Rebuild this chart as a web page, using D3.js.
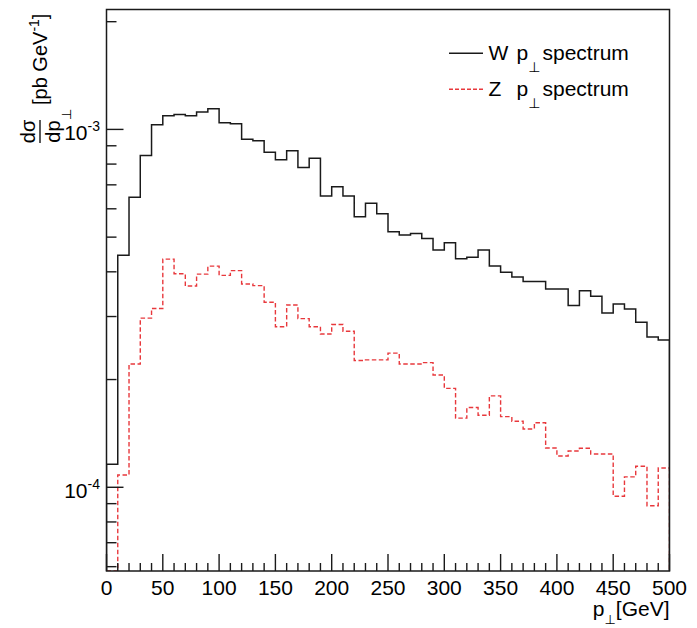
<!DOCTYPE html>
<html>
<head>
<meta charset="utf-8">
<script src="https://cdn.jsdelivr.net/npm/d3@7/dist/d3.min.js"></script>
<style>
  html, body { margin: 0; padding: 0; background: #fff; }
  svg { display: block; }
  text, tspan { font-family: "Liberation Sans", Arial, Helvetica, sans-serif; fill: #000; }
  tspan.perp, text.perp { font-family: "DejaVu Sans", sans-serif; fill: #000; }
</style>
</head>
<body>
<svg id="chart" width="697" height="628"></svg>
<script>
// p_T spectra, 10 GeV bins from 0 to 500 GeV, dσ/dp_T in pb/GeV
const binEdges = d3.range(0, 510, 10);

const wSpectrum = [
  1.16e-4, 4.45e-4, 6.46e-4, 8.46e-4, 1.030e-3, 1.091e-3, 1.101e-3, 1.091e-3, 1.118e-3, 1.142e-3,
  1.043e-3, 1.037e-3, 9.39e-4, 9.29e-4, 8.64e-4, 8.22e-4, 8.71e-4, 7.83e-4, 8.30e-4, 6.51e-4,
  6.91e-4, 6.52e-4, 5.70e-4, 6.22e-4, 5.81e-4, 5.18e-4, 5.07e-4, 5.12e-4, 4.96e-4, 4.60e-4,
  4.82e-4, 4.35e-4, 4.39e-4, 4.60e-4, 4.15e-4, 3.99e-4, 3.87e-4, 3.76e-4, 3.76e-4, 3.58e-4,
  3.58e-4, 3.22e-4, 3.54e-4, 3.42e-4, 3.07e-4, 3.25e-4, 3.15e-4, 2.89e-4, 2.63e-4, 2.58e-4
];

const zSpectrum = [
  0, 1.082e-4, 2.21e-4, 2.97e-4, 3.16e-4, 4.34e-4, 3.95e-4, 3.65e-4, 3.94e-4, 4.15e-4,
  3.91e-4, 4.03e-4, 3.70e-4, 3.66e-4, 3.29e-4, 2.81e-4, 3.23e-4, 2.96e-4, 2.81e-4, 2.68e-4,
  2.85e-4, 2.73e-4, 2.26e-4, 2.27e-4, 2.27e-4, 2.37e-4, 2.21e-4, 2.21e-4, 2.23e-4, 2.06e-4,
  1.89e-4, 1.56e-4, 1.67e-4, 1.59e-4, 1.80e-4, 1.575e-4, 1.53e-4, 1.455e-4, 1.515e-4, 1.288e-4,
  1.223e-4, 1.263e-4, 1.285e-4, 1.239e-4, 1.239e-4, 9.44e-5, 1.069e-4, 1.145e-4, 8.88e-5, 1.132e-4
];

const xMajorTicks = [0, 50, 100, 150, 200, 250, 300, 350, 400, 450, 500];
const xMinorTicks = d3.range(0, 501, 10).filter(v => v % 50 !== 0);
const yMajorTicks = [1e-4, 1e-3];
const yMajorExp = ["-4", "-3"];
const yMinorTicks = [6e-5, 7e-5, 8e-5, 9e-5, 2e-4, 3e-4, 4e-4, 5e-4, 6e-4, 7e-4, 8e-4, 9e-4, 2e-3];
const yDomain = [5.835e-5, 2.163e-3];

const legendLabels = ["W", "Z"];

// frame geometry
const L = 106.5, R = 669.5, T = 9.5, B = 571;

const svg = d3.select("#chart");

const x = d3.scaleLinear().domain([0, 500]).range([L, R]);
const y = d3.scaleLog().domain(yDomain).range([B, T]).clamp(true);

svg.append("defs").append("clipPath").attr("id", "plotClip")
  .append("rect").attr("x", L).attr("y", T).attr("width", R - L).attr("height", B - T);

// step outline of a histogram, dropping to the lower edge at both ends
function histPath(values) {
  const line = d3.line()
    .x(d => x(d[0]))
    .y(d => y(d[1]))
    .curve(d3.curveStepAfter);
  const inner = values.map((v, i) => [binEdges[i], v]);
  inner.push([binEdges[values.length], values[values.length - 1]]);
  let d = "M" + x(binEdges[0]) + "," + y(0);
  d += "L" + line(inner).slice(1);
  d += "L" + x(binEdges[values.length]) + "," + y(0);
  return d;
}

const plot = svg.append("g").attr("clip-path", "url(#plotClip)");

plot.append("path")
  .attr("d", histPath(zSpectrum))
  .attr("fill", "none")
  .attr("stroke", "#e8383c")
  .attr("stroke-width", 1.4)
  .attr("stroke-dasharray", "4.5,2.5");

plot.append("path")
  .attr("d", histPath(wSpectrum))
  .attr("fill", "none")
  .attr("stroke", "#1a1a1a")
  .attr("stroke-width", 1.5);

// frame
svg.append("rect")
  .attr("x", L).attr("y", T).attr("width", R - L).attr("height", B - T)
  .attr("fill", "none").attr("stroke", "#1a1a1a").attr("stroke-width", 1.5);

// x ticks (drawn inward)
const tickColor = "#1a1a1a";
svg.append("g").selectAll("line.xmaj").data(xMajorTicks).join("line")
  .attr("x1", d => x(d)).attr("x2", d => x(d))
  .attr("y1", B).attr("y2", B - 17)
  .attr("stroke", tickColor).attr("stroke-width", 1.4);
svg.append("g").selectAll("line.xmin").data(xMinorTicks).join("line")
  .attr("x1", d => x(d)).attr("x2", d => x(d))
  .attr("y1", B).attr("y2", B - 8)
  .attr("stroke", tickColor).attr("stroke-width", 1.4);
svg.append("g").selectAll("text").data(xMajorTicks).join("text")
  .attr("x", d => x(d)).attr("y", 595)
  .attr("text-anchor", "middle")
  .attr("font-size", 21)
  .text(d => d);

// y ticks
svg.append("g").selectAll("line.ymaj").data(yMajorTicks).join("line")
  .attr("x1", L).attr("x2", L + 17)
  .attr("y1", d => y(d)).attr("y2", d => y(d))
  .attr("stroke", tickColor).attr("stroke-width", 1.4);
svg.append("g").selectAll("line.ymin").data(yMinorTicks).join("line")
  .attr("x1", L).attr("x2", L + 10)
  .attr("y1", d => y(d)).attr("y2", d => y(d))
  .attr("stroke", tickColor).attr("stroke-width", 1.4);

const yLab = svg.append("g").selectAll("text").data(yMajorTicks).join("text")
  .attr("x", 100).attr("y", d => y(d) + 10.5)
  .attr("text-anchor", "end")
  .attr("font-size", 21);
yLab.append("tspan").text("10");
yLab.append("tspan")
  .attr("dy", -9).attr("font-size", 14)
  .text((d, i) => yMajorExp[i]);

// x-axis title
const xTitle = svg.append("text")
  .attr("x", R).attr("y", 616)
  .attr("text-anchor", "end")
  .attr("font-size", 21);
xTitle.append("tspan").text("p");
xTitle.append("tspan").attr("class", "perp").attr("dy", 8).attr("font-size", 13).text("\u22A5");
xTitle.append("tspan").attr("dy", -8).text("[GeV]");

// y-axis title: fraction dσ/dp⊥ followed by units, rotated
const yt = svg.append("g").attr("transform", "rotate(-90)");
yt.append("text")
  .attr("x", -131.5).attr("y", 35)
  .attr("text-anchor", "middle").attr("font-size", 20)
  .text("d\u03C3");
yt.append("line")
  .attr("x1", -143).attr("x2", -120)
  .attr("y1", 40).attr("y2", 40)
  .attr("stroke", "#000").attr("stroke-width", 1.3);
yt.append("text")
  .attr("x", -131.5).attr("y", 59.5)
  .attr("text-anchor", "middle").attr("font-size", 20)
  .text("dp");
yt.append("text")
  .attr("class", "perp")
  .attr("x", -120).attr("y", 71)
  .attr("text-anchor", "start").attr("font-size", 13)
  .text("\u22A5");
const units = yt.append("text")
  .attr("x", -105).attr("y", 47)
  .attr("text-anchor", "start").attr("font-size", 20);
units.append("tspan").text("[pb GeV");
units.append("tspan").attr("dy", -8).attr("font-size", 14).text("-1");
units.append("tspan").attr("dy", 8).text("]");

// legend
const legendY = [53.3, 89.3];
const legendStyle = [
  { stroke: "#1a1a1a", dash: null },
  { stroke: "#e8383c", dash: "4,2" }
];
legendLabels.forEach((lab, i) => {
  svg.append("line")
    .attr("x1", 449).attr("x2", 483)
    .attr("y1", legendY[i]).attr("y2", legendY[i])
    .attr("stroke", legendStyle[i].stroke)
    .attr("stroke-width", 1.4)
    .attr("stroke-dasharray", legendStyle[i].dash);
  const t = svg.append("text")
    .attr("x", 488.5).attr("y", legendY[i] + 6.3)
    .attr("font-size", 21);
  t.append("tspan").text(lab);
  t.append("tspan").attr("x", 516.5).text("p");
  t.append("tspan").attr("class", "perp").attr("dy", 12).attr("font-size", 14).text("\u22A5");
  t.append("tspan").attr("dy", -12).attr("x", 542.5).text("spectrum");
});
</script>
</body>
</html>
